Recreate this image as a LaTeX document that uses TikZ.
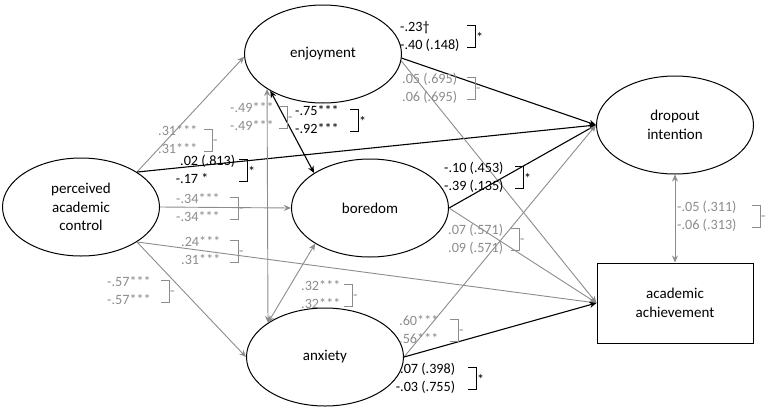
\documentclass[tikz,border=0pt]{standalone}
\usepackage{fontspec}
\setmainfont{Carlito}
\usetikzlibrary{arrows.meta}
\usetikzlibrary{shapes.geometric}
\definecolor{pathGray}{RGB}{140,140,140}
\newcommand{\sigMark}{\raisebox{-2.5pt}{*}}
\newcommand{\coefPair}[8]{%%
  %% The two estimates, one above the other.
  \node[coefStyle,#8] (#1a) at (#2,#3) {#4};
  \node[coefStyle,#8] (#1b) at (#2,#3+\rowGap) {#5};
  %% The bracket and the mark of the difference.
  \draw[bracketStyle,#8] (#6-\tickLen,#3-2) -- (#6,#3-2)
    -- (#6,#3+\rowGap+2) -- (#6-\tickLen,#3+\rowGap+2);
  \node[markStyle,#8] (#1m) at (#6,#3+\rowGap/2) {#7};
}

\begin{document}
\begin{tikzpicture}[%%
  x=1pt,y=-1pt,%%
  latentStyle/.style={draw,ellipse,line width=1pt,inner sep=0pt,align=center,
    minimum width=157pt,minimum height=98pt,font=\fontsize{15}{18.5}\selectfont},%%
  boxStyle/.style={draw,rectangle,line width=1pt,inner sep=0pt,align=center,
    minimum width=156pt,minimum height=80pt,font=\fontsize{15}{18.5}\selectfont},%%
  blackPath/.style={-{Stealth[length=7pt,width=6pt]},line width=1.1pt,black},%%
  grayPath/.style={-{Stealth[length=7pt,width=6pt]},line width=0.9pt,pathGray},%%
  blackCov/.style={{Stealth[length=7pt,width=6pt]}-{Stealth[length=7pt,width=6pt]},line width=1.1pt,black},%%
  grayCov/.style={{Stealth[length=7pt,width=6pt]}-{Stealth[length=7pt,width=6pt]},line width=0.9pt,pathGray},%%
  coefStyle/.style={anchor=base west,inner sep=0pt,yshift=-4.7pt,font=\fontsize{14.2}{16}\selectfont},%%
  bracketStyle/.style={line width=0.6pt},%%
  markStyle/.style={anchor=base west,inner sep=1pt,yshift=-4pt,font=\fontsize{14.2}{16}\selectfont}
]
\useasboundingbox (0,0) rectangle (773,410);
%%
%% Spacing of the estimates.
\pgfmathsetmacro{\rowGap}{18}
\pgfmathsetmacro{\tickLen}{8}
%%
%% The constructs.
\node[latentStyle] (ctrl) at (81,207) {perceived\\academic\\control};
\node[latentStyle] (enj) at (323,54) {enjoyment};
\node[latentStyle] (bor) at (370,208) {boredom};
\node[latentStyle] (anx) at (325,357) {anxiety};
\node[latentStyle] (drop) at (675,125) {dropout\\intention};
\node[boxStyle] (ach) at (675,303) {academic\\achievement};
%%
%% Paths from control.
\draw[grayPath] (ctrl.32) -- (enj.182);
\draw[blackPath] (ctrl.32) -- (drop.west);
\draw[grayPath] (ctrl.east) -- (bor.west);
\draw[grayPath] (ctrl.-32) -- (ach.west);
\draw[grayPath] (ctrl.-32) -- (anx.west);
%%
%% Covariances of the emotions.
\draw[grayCov] (enj.212) -- (anx.149);
\draw[blackCov] (enj.215) -- (bor.148);
\draw[grayCov] (bor.213) -- (anx.149);
%%
%% Paths to the outcomes.
\draw[blackPath] (enj.-3) -- (drop.west);
\draw[grayPath] (enj.-5) -- (ach.west);
\draw[blackPath] (bor.east) -- (drop.west);
\draw[grayPath] (bor.east) -- (ach.west);
\draw[grayPath] (anx.east) -- (drop.west);
\draw[blackPath] (anx.east) -- (ach.west);
\draw[grayCov] (drop.south) -- (ach.north);
%%
%% The estimates.
\coefPair{ctrlEnj}{158}{131}{.31***}{.31***}{212}{-}{pathGray}
\coefPair{enjDrop}{400}{27}{-.23\textdagger}{-.40 (.148)}{475}{\sigMark}{black}
\coefPair{enjAch}{402}{79}{.05 (.695)}{.06 (.695)}{475}{-}{pathGray}
\coefPair{enjAnx}{230}{108}{-.49***}{-.49***}{287}{-}{pathGray}
\coefPair{enjBor}{295}{111}{-.75***}{-.92***}{358}{\sigMark}{black}
\coefPair{ctrlDrop}{180}{161}{.02 (.813)}{\llap{-}.17 *}{247}{\sigMark}{black}
\coefPair{ctrlBor}{176}{199}{-.34***}{-.34***}{238}{-}{pathGray}
\coefPair{ctrlAch}{181}{242}{.24***}{.31***}{238}{-}{pathGray}
\coefPair{ctrlAnx}{107}{282}{-.57***}{-.57***}{169}{-}{pathGray}
\coefPair{borAnx}{301}{286}{.32***}{.32***}{352}{-}{pathGray}
\coefPair{anxDrop}{399}{321}{.60***}{.56***}{458}{-}{pathGray}
\coefPair{anxAch}{400}{369}{.07 (.398)}{\llap{-}.03 (.755)}{476}{\sigMark}{black}
\coefPair{borDrop}{444}{168}{-.10 (.453)}{-.39 (.135)}{523}{\sigMark}{black}
\coefPair{borAch}{448}{230}{.07 (.571)}{.09 (.571)}{519}{-}{pathGray}
\coefPair{dropAch}{677}{207}{-.05 (.311)}{-.06 (.313)}{760}{-}{pathGray}
\end{tikzpicture}
\end{document}
